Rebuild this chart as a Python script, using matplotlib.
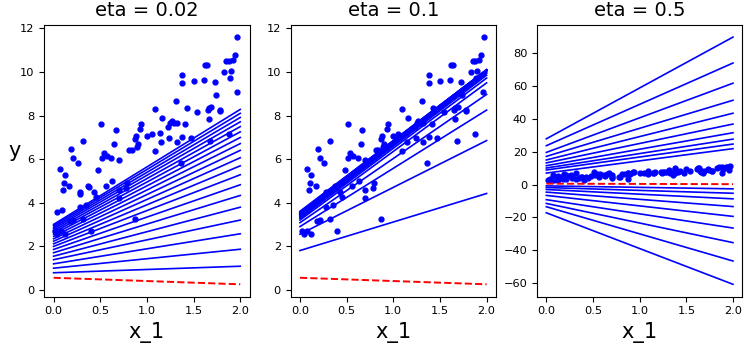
import matplotlib
matplotlib.use("Agg")
import matplotlib.pyplot as plt

# ---- data ----
x_data = [1.97, 1.94, 1.92, 1.88, 1.85, 1.90, 1.83, 1.89, 1.96,
          1.62, 1.64, 1.38, 1.38, 1.50, 1.61, 1.73, 1.31, 1.74,
          1.43, 1.54, 1.65, 1.66, 1.69, 1.78, 1.78, 1.66,
          1.09, 1.16, 1.25, 1.27, 1.29, 1.32, 1.41, 1.23, 1.14, 1.05, 1.00, 1.38, 1.47, 1.24, 1.15, 1.32, 1.09,
          0.94, 0.93, 0.88, 0.87, 0.90, 0.89, 0.81, 0.84,
          0.67, 0.51, 0.65, 0.54, 0.57, 0.52, 0.62, 0.70, 0.48, 0.63, 0.56,
          0.32, 0.19, 0.21, 0.26, 0.07, 0.12, 0.11, 0.17, 0.10, 0.04, 0.09,
          0.28, 0.28, 0.37, 0.38, 0.43, 0.45, 0.70, 0.70, 0.78, 0.79,
          0.28, 0.32, 0.40, 0.87, 1.36, 1.68, 1.88, 0.21, 0.04, 0.08, 0.12, 0.02, 0.35, 0.18]
y_data = [11.6, 10.8, 10.55, 10.5, 10.5, 10.05, 10.0, 9.7, 9.1,
          10.3, 10.32, 9.85, 9.5, 9.6, 9.65, 9.55, 8.65, 8.95,
          8.35, 8.15, 8.25, 8.35, 8.4, 8.25, 8.2, 7.85,
          8.3, 7.9, 7.65, 7.75, 7.65, 7.65, 7.6, 7.45, 7.2, 7.15, 7.05, 7.0, 6.95, 6.95, 6.8, 6.8, 6.35,
          7.6, 7.4, 7.05, 6.9, 6.7, 6.55, 6.4, 6.4,
          7.35, 7.6, 6.7, 6.3, 6.15, 6.05, 6.05, 5.95, 5.5, 5.0, 4.75,
          6.85, 6.45, 6.05, 5.8, 5.55, 5.25, 4.9, 4.75, 4.6, 3.55, 3.65,
          4.5, 4.4, 4.75, 4.7, 4.5, 4.25, 4.6, 4.2, 4.65, 4.9,
          3.8, 3.25, 2.7, 3.25, 5.8, 6.85, 7.15, 3.2, 2.55, 2.7, 2.55, 2.7, 3.9, 3.15]

etas = [0.02, 0.1, 0.5]
x_ends = [0.0, 2.0]

# initial (red dashed) model, value at x=0 and at x=2
start_y0 = 0.55
start_y2 = 0.25

# blue model lines per learning rate: value at x=0 and value at x=2
lines_y0 = {
    0.02: [0.78, 0.99, 1.19, 1.38, 1.54, 1.70, 1.85, 1.99, 2.11, 2.23,
           2.34, 2.45, 2.55, 2.64, 2.72, 2.80, 2.87, 2.94, 3.00],
    0.1: [1.80, 2.55, 2.90, 3.08, 3.20, 3.27, 3.32, 3.36, 3.39, 3.42,
          3.44, 3.46, 3.48, 3.50, 3.52, 3.54, 3.56, 3.58, 3.60],
    0.5: [7.0, -0.8, 8.9, -1.8, 10.1, -3.0, 11.5, -4.6, 13.2, -6.6,
          15.0, -9.2, 17.2, -11.5, 19.6, -13.5, 23.7, -17.2, 27.9],
}
lines_y2 = {
    0.02: [1.08, 1.86, 2.57, 3.20, 3.79, 4.33, 4.82, 5.28, 5.69, 6.06,
           6.40, 6.71, 6.99, 7.25, 7.49, 7.71, 7.91, 8.10, 8.28],
    0.1: [4.42, 6.85, 8.25, 8.97, 9.50, 9.72, 9.85, 9.93, 9.98, 10.02,
          10.04, 10.06, 10.07, 10.08, 10.09, 10.10, 10.10, 10.10, 10.10],
    0.5: [21.9, -2.6, 24.7, -5.3, 27.7, -8.7, 31.6, -13.4, 36.9, -19.4,
          43.5, -26.5, 51.4, -35.4, 61.8, -46.6, 74.1, -60.8, 89.9],
}
titles = ["eta = 0.02", "eta = 0.1", "eta = 0.5"]

fig, axes = plt.subplots(1, 3, figsize=(7.53, 3.64), dpi=100)
fig.subplots_adjust(left=0.0588, right=0.9858, top=0.932, bottom=0.185, wspace=0.2)

for ax, eta, title in zip(axes, etas, titles):
    ax.plot(x_data, y_data, "b.", markersize=7)
    ax.plot(x_ends, [start_y0, start_y2], "r--", lw=1.4)
    for a, b in zip(lines_y0[eta], lines_y2[eta]):
        ax.plot(x_ends, [a, b], "b-", lw=1.2)
    ax.set_xlabel("x_1", fontsize=15)
    ax.set_title(title, fontsize=14)
    ax.set_xticks([0.0, 0.5, 1.0, 1.5, 2.0])
    ax.tick_params(labelsize=8.2)

axes[0].set_ylabel("y", rotation=0, fontsize=15)

fig.savefig("out.png", dpi=100)
